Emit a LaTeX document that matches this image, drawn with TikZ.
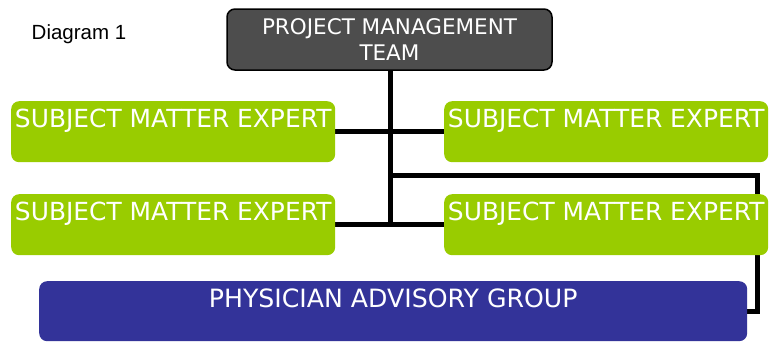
\documentclass[tikz,border=0pt]{standalone}
\usepackage{fontspec}
\setmainfont{DejaVu Sans}
\newfontfamily\arialf{Liberation Sans}
\usetikzlibrary{backgrounds}
\definecolor{pmtgray}{HTML}{4D4D4D}
\definecolor{smegreen}{HTML}{99CC00}
\definecolor{pagblue}{HTML}{333399}
\begin{document}
\begin{tikzpicture}[x=1pt,y=-1pt,
  smebox/.style={fill=smegreen, draw=none, rounded corners=8pt, inner sep=0pt,
    minimum width=324pt, text=white, font=\fontsize{24.9}{28}\selectfont,
    text height=26.7pt, text depth=34.3pt},
  pmtbox/.style={fill=pmtgray, draw=black, line width=1.5pt, rounded corners=8pt, inner sep=0pt,
    minimum width=325pt, minimum height=61pt, text=white, align=center,
    font=\fontsize{21.5}{26}\selectfont},
  pagbox/.style={fill=pagblue, draw=none, rounded corners=8pt, inner sep=0pt,
    minimum width=708pt, text=white, font=\fontsize{25.2}{28}\selectfont,
    text height=26.7pt, text depth=33.3pt},
  conn/.style={draw=black, line width=5pt, line join=miter}]
\useasboundingbox (0,0) rectangle (771,343);
\node[anchor=base west, inner sep=0pt, font=\arialf\fontsize{20.5}{24}\selectfont] (title) at (31.5,39) {Diagram 1};
\node[pmtbox] (pmt) at (389.5,39.5) {PROJECT MANAGEMENT\\TEAM};
\node[smebox, anchor=north west] (sme1) at (11,101) {SUBJECT MATTER EXPERT};
\node[smebox, anchor=north west] (sme2) at (444,101) {SUBJECT MATTER EXPERT};
\node[smebox, anchor=north west] (sme3) at (11,194) {SUBJECT MATTER EXPERT};
\node[smebox, anchor=north west] (sme4) at (444,194) {SUBJECT MATTER EXPERT};
\node[pagbox, anchor=north west] (pag) at (39,281) {PHYSICIAN ADVISORY GROUP};
\coordinate (j) at (390,175);
\coordinate (rc) at (757.5,175);
\coordinate (vb) at (390,227);
\begin{scope}[on background layer]
\draw[conn] (pmt.south -| vb) -- (vb);
\draw[conn] (sme1.east) -- (sme2.west);
\draw[conn] (sme3.east) -- (sme4.west);
\draw[conn] (j) -- (rc) |- (pag.east);
\end{scope}
\end{tikzpicture}
\end{document}
